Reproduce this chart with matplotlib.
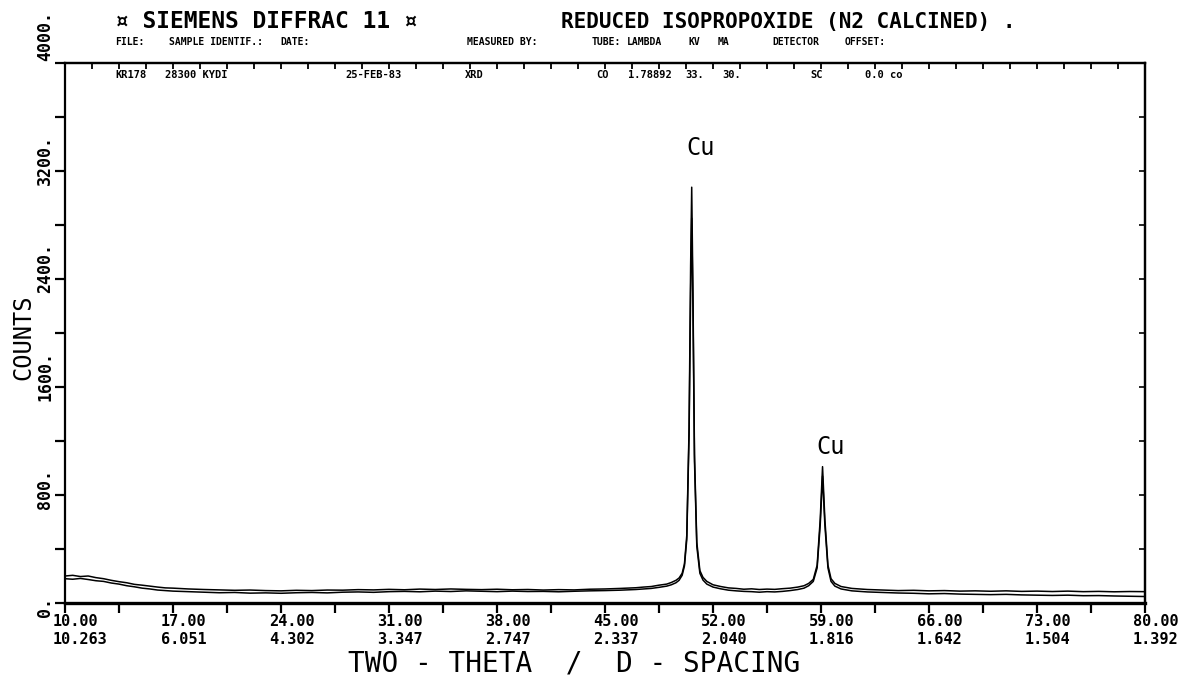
import matplotlib
matplotlib.use("Agg")
import matplotlib.pyplot as plt
from matplotlib.transforms import offset_copy

# ---------------- data ----------------
two_theta = [10, 10.5, 11, 11.5, 12, 12.5, 13, 13.5, 14, 14.5, 15, 15.5, 16, 16.5, 17,
             18, 19, 20, 21, 22, 23, 24, 25, 26, 27, 28, 29, 30, 31, 32, 33, 34, 35, 36, 37,
             38, 39, 40, 41, 42, 43, 44, 45, 46, 47,
             47.5, 48, 48.5, 49, 49.3, 49.6, 49.8,
             50.0, 50.15, 50.3, 50.45, 50.55, 50.62, 50.70, 50.80, 50.95,
             51.15, 51.35, 51.6,
             52, 52.5, 53, 53.5, 54, 54.5, 55, 55.5, 56, 56.5, 57, 57.5,
             57.9, 58.2, 58.5, 58.75, 58.95,
             59.10, 59.25, 59.45, 59.65, 59.9, 60.3,
             61, 62, 63, 64, 65, 66, 67, 68, 69, 70, 71, 72, 73, 74, 75, 76, 77, 78, 79, 80]

counts_scan1 = [200, 205, 196, 200, 188, 180, 168, 158, 150, 138, 132, 125, 118, 112, 110,
                104, 100, 97, 94, 96, 92, 90, 94, 92, 96, 95, 99, 97, 101, 98, 103, 100, 104, 101, 99,
                102, 98, 100, 96, 99, 97, 102, 104, 108, 113,
                118, 122, 132, 140, 152, 168, 185,
                220, 290, 500, 1300, 2500, 3080, 2300, 1100, 450,
                240, 190, 160,
                135, 122, 112, 108, 102, 105, 100, 103, 101, 106, 110, 118,
                128, 145, 175, 280, 620,
                1010, 620, 280, 180, 145, 122,
                108, 100, 96, 92, 94, 90, 92, 88, 90, 87, 90, 86, 88, 85, 88, 84, 86, 83, 85, 84]

counts_scan2 = [180, 176, 182, 174, 165, 160, 148, 140, 128, 120, 110, 104, 96, 92, 88,
                84, 80, 76, 78, 73, 75, 72, 76, 78, 75, 80, 82, 79, 84, 86, 83, 88, 85, 90, 87,
                84, 88, 85, 86, 83, 87, 90, 92, 95, 100,
                104, 108, 116, 125, 135, 150, 168,
                205, 275, 470, 1250, 2300, 2850, 2200, 1050, 420,
                220, 170, 140,
                118, 105, 95, 90, 86, 84, 80, 84, 82, 86, 92, 100,
                110, 128, 160, 260, 580,
                940, 580, 260, 160, 125, 104,
                90, 82, 78, 74, 72, 68, 70, 66, 64, 62, 64, 60, 58, 56, 58, 54, 55, 52, 50, 48]

x_major = [10, 17, 24, 31, 38, 45, 52, 59, 66, 73, 80]
x_labels_2theta = ["10.00", "17.00", "24.00", "31.00", "38.00", "45.00",
                   "52.00", "59.00", "66.00", "73.00", "80.00"]
x_labels_d = ["10.263", "6.051", "4.302", "3.347", "2.747", "2.337",
              "2.040", "1.816", "1.642", "1.504", "1.392"]
y_major = [0, 800, 1600, 2400, 3200, 4000]
y_labels = ["0.", "800.", "1600.", "2400.", "3200.", "4000."]

peak_lab_x = [51.2, 59.64]
peak_lab_y = [3370, 1155]
peak_names = ["Cu", "Cu"]

title_left = "¤ SIEMENS DIFFRAC 11 ¤"
title_right = "REDUCED ISOPROPOXIDE (N2 CALCINED) ."
header_fields = ["FILE:", "SAMPLE IDENTIF.:", "DATE:", "MEASURED BY:", "TUBE:",
                 "LAMBDA", "KV", "MA", "DETECTOR", "OFFSET:"]
header_x = [115, 169, 280, 467, 592, 627, 688, 718, 772, 845]
value_fields = ["KR178", "28300 KYDI", "25-FEB-83", "XRD", "CO",
                "1.78892", "33.", "30.", "SC", "0.0 co"]
value_x = [115, 165, 345, 465, 596, 628, 685, 722, 810, 865]

# ---------------- figure ----------------
W, H = 1190, 677
fig = plt.figure(figsize=(W / 100, H / 100), dpi=100)
ax = fig.add_axes([65 / W, 1 - 603 / H, 1080 / W, 540 / H])

ax.plot(two_theta, counts_scan1, color="black", lw=1.1)
ax.plot(two_theta, counts_scan2, color="black", lw=1.1)

ax.set_xlim(10, 80)
ax.set_ylim(0, 4000)

for s in ["left", "right", "top"]:
    ax.spines[s].set_linewidth(1.6)
ax.spines["bottom"].set_linewidth(2.4)

mono = "DejaVu Sans Mono"

# x ticks (bottom, outward)
ax.set_xticks(x_major)
ax.set_xticks([v + 3.5 for v in x_major[:-1]], minor=True)
ax.set_xticklabels([])
ax.tick_params(axis="x", which="both", direction="out", length=7, width=1.6,
               top=False, bottom=True)
# y ticks (left, outward)
ax.set_yticks(y_major)
ax.set_yticks([v + 400 for v in y_major[:-1]], minor=True)
ax.set_yticklabels([])
ax.tick_params(axis="y", which="both", direction="out", length=7, width=1.6,
               left=True, right=False)

# top / right inward ticks
secx = ax.secondary_xaxis("top")
secx.set_xticks([10 + 1.75 * i for i in range(41)])
secx.set_xticklabels([])
secx.tick_params(direction="in", length=4, width=1.3)
secx.spines["top"].set_linewidth(1.6)
secy = ax.secondary_yaxis("right")
secy.set_yticks(y_major + [v + 400 for v in y_major[:-1]])
secy.set_yticklabels([])
secy.tick_params(direction="in", length=4, width=1.2)
secy.spines["right"].set_linewidth(1.6)

# x tick labels: two rows
tr1 = offset_copy(ax.get_xaxis_transform(), fig=fig, x=-12, y=-19, units="dots")
tr2 = offset_copy(ax.get_xaxis_transform(), fig=fig, x=-12, y=-37, units="dots")
for xv, l1, l2 in zip(x_major, x_labels_2theta, x_labels_d):
    ax.text(xv, 0, l1, transform=tr1, ha="left", va="center", family=mono,
            weight="bold", fontsize=11, clip_on=False)
    ax.text(xv, 0, l2, transform=tr2, ha="left", va="center", family=mono,
            weight="bold", fontsize=11, clip_on=False)

# y tick labels (rotated)
for yv, lab in zip(y_major, y_labels):
    dy = 2 if yv == y_major[-1] else -14
    tr = offset_copy(ax.get_yaxis_transform(), fig=fig, x=-20, y=dy, units="dots")
    ax.text(0, yv, lab, transform=tr, rotation=90, ha="center", va="bottom",
            family=mono, weight="bold", fontsize=12, clip_on=False)

# axis labels
fig.text(23 / W, 1 - 337 / H, "COUNTS", rotation=90, ha="center", va="center",
         family=mono, fontsize=17)
fig.text(574 / W, 1 - 664 / H, "TWO - THETA  /  D - SPACING", ha="center", va="center",
         family=mono, fontsize=20)

# peak annotations
for xp, yp, nm in zip(peak_lab_x, peak_lab_y, peak_names):
    ax.text(xp, yp, nm, ha="center", va="center", fontsize=17, family=mono)

# header
fig.text(115 / W, 1 - 22 / H, title_left, ha="left", va="center", family=mono,
         fontsize=16.5, weight="bold")
fig.text(561 / W, 1 - 22 / H, title_right, ha="left", va="center", family=mono,
         fontsize=15, weight="bold")
for txt, xp in zip(header_fields, header_x):
    fig.text(xp / W, 1 - 42 / H, txt, ha="left", va="center", family=mono,
             weight="bold", fontsize=7)
for txt, xp in zip(value_fields, value_x):
    fig.text(xp / W, 1 - 75 / H, txt, ha="left", va="center", family=mono,
             weight="bold", fontsize=7.5)

fig.savefig("out.png", dpi=100)
